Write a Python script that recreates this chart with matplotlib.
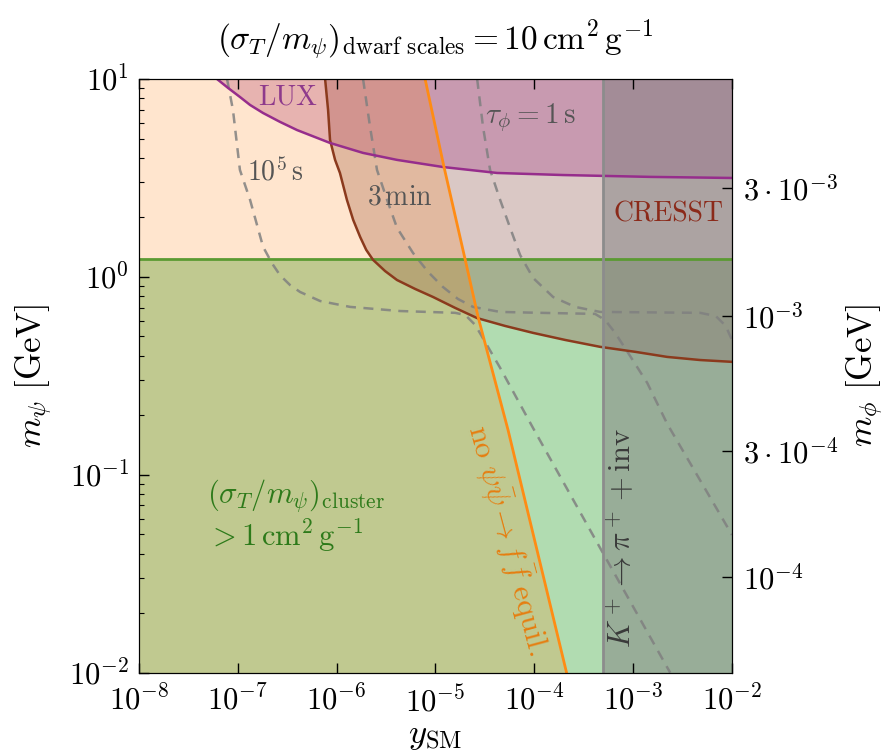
import numpy as np
import matplotlib
matplotlib.use("Agg")
import matplotlib.pyplot as plt

plt.rcParams['mathtext.fontset'] = 'cm'
plt.rcParams['font.family'] = 'serif'
plt.rcParams['font.serif'] = ['cmr10', 'DejaVu Serif']
plt.rcParams['axes.formatter.use_mathtext'] = True

# cluster bound on m_psi [GeV]
cluster_m = 1.23
# K+ -> pi+ + inv bound on y_SM
kaon_y = 5e-4

# LUX exclusion boundary
lux_y = [6.15e-8, 7.96e-8, 1.05e-7, 1.33e-7, 1.80e-7, 2.67e-7, 3.97e-7, 8.57e-7,
         1.85e-6, 4.08e-6, 1.19e-5, 4.20e-5, 1.95e-4, 1.49e-3, 1e-2]
lux_m = [10, 9.01, 8.11, 7.39, 6.73, 6.07, 5.52, 4.75,
         4.23, 3.90, 3.59, 3.35, 3.27, 3.20, 3.16]

# CRESST exclusion boundary
cresst_y = [7.64e-7, 8.19e-7, 8.57e-7, 9.64e-7, 1.08e-6, 1.27e-6, 1.47e-6, 1.73e-6,
            1.99e-6, 2.33e-6, 3.09e-6, 4.08e-6, 6.22e-6, 9.46e-6, 1.58e-5, 2.64e-5,
            5.06e-5, 9.73e-5, 2.05e-4, 4.63e-4, 1.05e-3, 2.21e-3, 4.76e-3, 1e-2]
cresst_m = [10, 6.97, 4.92, 3.90, 3.35, 2.45, 1.94, 1.59,
            1.37, 1.22, 1.07, 0.964, 0.869, 0.791, 0.697, 0.619,
            0.565, 0.521, 0.480, 0.443, 0.418, 0.394, 0.380, 0.372]

# no psi psibar -> f fbar equilibrium
equil_y = [7.85e-6, 1.22e-5, 2.00e-5, 2.70e-5, 5.43e-5, 2.12e-4]
equil_m = [10, 3.59, 1.22, 0.627, 0.168, 0.01]

# phi lifetime contours
tau_1e5_y = [7.78e-8, 8.93e-8, 1.05e-7, 1.33e-7, 1.80e-7, 2.22e-7, 2.67e-7, 3.37e-7,
             4.26e-7, 6.80e-7, 1.37e-6, 4.38e-6, 1.58e-5, 2.00e-5, 2.52e-5, 3.18e-5,
             4.51e-5, 9.73e-5, 4.63e-4, 2.37e-3]
tau_1e5_m = [10, 6.97, 3.47, 2.45, 1.42, 1.17, 1.02, 0.910,
             0.839, 0.755, 0.705, 0.672, 0.658, 0.642, 0.572, 0.469,
             0.347, 0.172, 0.0427, 0.01]

tau_3min_y = [1.85e-6, 2.18e-6, 2.56e-6, 3.24e-6, 4.08e-6, 5.93e-6, 8.41e-6, 1.19e-5,
              1.69e-5, 2.40e-5, 4.51e-5, 1.15e-4, 4.12e-4, 5.21e-4, 6.58e-4, 9.33e-4,
              1.39e-3, 2.21e-3, 1e-2]
tau_3min_m = [10, 5.71, 3.47, 2.45, 1.77, 1.32, 1.06, 0.889,
              0.773, 0.705, 0.665, 0.658, 0.650, 0.605, 0.521, 0.398,
              0.291, 0.181, 0.0497]

tau_1s_y = [2.64e-5, 3.03e-5, 3.57e-5, 4.51e-5, 5.69e-5, 7.18e-5, 9.73e-5, 1.55e-4,
            2.59e-4, 4.63e-4, 4.76e-3, 6.86e-3, 8.65e-3, 1e-2]
tau_1s_m = [10, 5.71, 3.47, 2.45, 1.77, 1.29, 0.987, 0.791,
            0.705, 0.665, 0.658, 0.634, 0.565, 0.480]

# right axis: m_phi values and where they sit in m_psi
mphi_labels = [r'$3\cdot10^{-3}$', r'$10^{-3}$', r'$3\cdot10^{-4}$', r'$10^{-4}$']
mphi_at_mpsi = [2.81, 0.634, 0.132, 0.0305]

xlim = (1e-8, 1e-2)
ylim = (1e-2, 1e1)

fig = plt.figure(figsize=(8.91, 7.52), dpi=100)
ax = fig.add_axes([0.156, 0.1055, 0.6655, 0.7895])
ax.set_xscale('log')
ax.set_yscale('log')

# shaded regions
ax.fill_between(xlim, ylim[0], cluster_m, color='tab:green', alpha=0.37, lw=0)
ax.fill_between(cresst_y, cresst_m, ylim[1], color='tab:brown', alpha=0.32, lw=0)
ax.fill_between(lux_y, lux_m, ylim[1], color='#a03282', alpha=0.3, lw=0)
ax.fill_betweenx(equil_m, xlim[0], equil_y, color='tab:orange', alpha=0.2, lw=0)
ax.axvspan(kaon_y, xlim[1], color='gray', alpha=0.5, lw=0)

# lifetime contours
for ys, ms in [(tau_1e5_y, tau_1e5_m), (tau_3min_y, tau_3min_m), (tau_1s_y, tau_1s_m)]:
    ax.plot(ys, ms, color='#808080', lw=1.8, dashes=(4, 3), alpha=0.85)

# boundaries
ax.axhline(cluster_m, color='#5b9a32', lw=2)
ax.plot(cresst_y, cresst_m, color='#8b3a1d', lw=1.8)
ax.plot(lux_y, lux_m, color='#962d8c', lw=1.8)
ax.plot(equil_y, equil_m, color='#ff8c14', lw=2)
ax.axvline(kaon_y, color='#8c8c8c', lw=2)

ax.set_xlim(*xlim)
ax.set_ylim(*ylim)

# labels inside the plot
ax.text(3.22e-7, 8.11, 'LUX', color='#8e3a8c', fontsize=20, ha='center', va='center')
ax.text(9.06e-5, 6.35, r'$\tau_\phi = 1\,{\rm s}$', color='#555555', fontsize=21,
        ha='center', va='center')
ax.text(2.38e-7, 3.39, r'$10^5\,{\rm s}$', color='#555555', fontsize=20,
        ha='center', va='center')
ax.text(4.38e-6, 2.51, r'$3\,{\rm min}$', color='#555555', fontsize=20,
        ha='center', va='center')
ax.text(2.26e-3, 2.06, 'CRESST', color='#8b2a1a', fontsize=20, ha='center', va='center')
ax.text(4.84e-8, 0.0619,
        r'$(\sigma_T/m_\psi)_{\rm cluster}$' + '\n' + r'$>1\,{\rm cm^2\,g^{-1}}$',
        color='#2d7a1a', fontsize=22, ha='left', va='center', linespacing=1.1)
ax.text(5.6e-5, 0.047, r'${\rm no}\ \psi\bar\psi\to f\,\bar f\ {\rm equil.}$',
        color='#e67e10', fontsize=22, ha='center', va='center', rotation=-75)
ax.text(7.6e-4, 0.048, r'$K^+\to\pi^+ + {\rm inv}$', color='#3a3a3a', fontsize=22,
        ha='center', va='center', rotation=90)

ax.set_xticks([1e-8, 1e-7, 1e-6, 1e-5, 1e-4, 1e-3, 1e-2])
ax.tick_params(which='both', direction='in', top=True, right=False, labelsize=22)
ax.tick_params(which='major', length=7, width=1)
ax.tick_params(which='minor', length=3.5, width=0.8)
ax.tick_params(axis='x', which='major', pad=9)
ax.tick_params(axis='y', which='major', pad=7)
ax.set_xlabel(r'$y_{\rm SM}$', fontsize=25, labelpad=2)
ax.set_ylabel(r'$m_\psi\ [{\rm GeV}]$', fontsize=25, labelpad=10)
ax.set_title(r'$(\sigma_T/m_\psi)_{\rm dwarf\ scales} = 10\,{\rm cm^2\,g^{-1}}$',
             fontsize=24, pad=22)

ax2 = ax.twinx()
ax2.set_yscale('log')
ax2.set_ylim(*ylim)
ax2.set_yticks(mphi_at_mpsi)
ax2.set_yticklabels(mphi_labels)
ax2.yaxis.set_minor_locator(matplotlib.ticker.NullLocator())
ax2.tick_params(direction='in', length=7, width=1, labelsize=22, pad=8)
ax2.set_ylabel(r'$m_\phi\ [{\rm GeV}]$', fontsize=25, labelpad=5)

fig.savefig('out.png', dpi=100)
